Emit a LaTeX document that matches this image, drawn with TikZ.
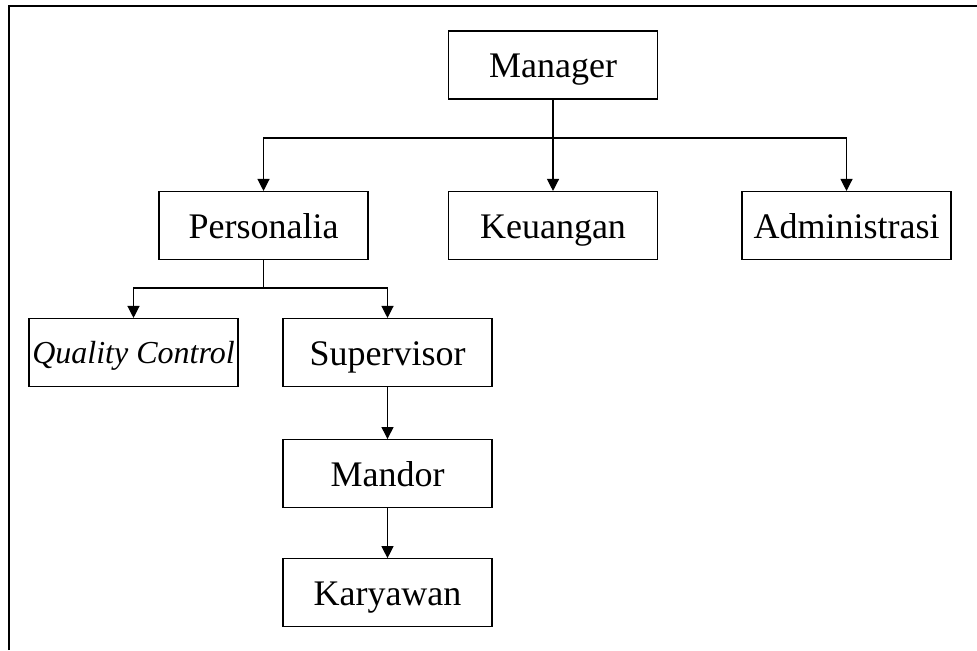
\documentclass[tikz,border=0pt]{standalone}
\usepackage{fontspec}
\setmainfont{Liberation Serif}
\usetikzlibrary{arrows.meta, positioning}

\begin{document}
\begin{tikzpicture}[x=0.5pt, y=-0.5pt,
    box/.style={draw, line width=0.55pt, minimum width=104.5pt, minimum height=34pt,
        inner sep=0pt, text height=12.5pt, text depth=0pt, font=\fontsize{18}{20}\selectfont},
    arr/.style={-{Triangle[length=6pt,width=6pt]}, line width=0.6pt}]
    \useasboundingbox (0,0) rectangle (977,650);
    \draw[line width=1.1pt] (9,650) -- (9,6) -- (977,6); % page frame
    % top level
    \node[box] (mgr) at (553,65) {Manager};
    \node[box] (pers) at (263.5,225.5) {Personalia};
    \node[box] (keu) at (553,225.5) {Keuangan};
    \node[box] (adm) at (846.5,225.5) {Administrasi};
    % under Personalia
    \node[box, text height=11pt, font=\fontsize{16}{18}\selectfont\itshape] (qc) at (133.5,352.5) {Quality Control};
    \node[box] (spv) at (387.5,352.5) {Supervisor};
    \node[box, below=26pt of spv] (mdr) {Mandor};
    \node[box, below=25pt of mdr] (kry) {Karyawan};
    \coordinate (jtop) at (553,138);
    \coordinate (jmid) at (266,288);
    \draw[line width=0.6pt] (mgr.south) -- (jtop);
    \draw[arr] (jtop) -| (pers.north);
    \draw[arr] (jtop) -- (keu.north);
    \draw[arr] (jtop) -| (adm.north);
    \draw[line width=0.6pt] (pers.south) -- (pers.south |- jmid);
    \draw[arr] (pers.south |- jmid) -| (qc.north);
    \draw[arr] (pers.south |- jmid) -| (spv.north);
    \draw[arr] (spv) -- (mdr);
    \draw[arr] (mdr) -- (kry);
\end{tikzpicture}
\end{document}
